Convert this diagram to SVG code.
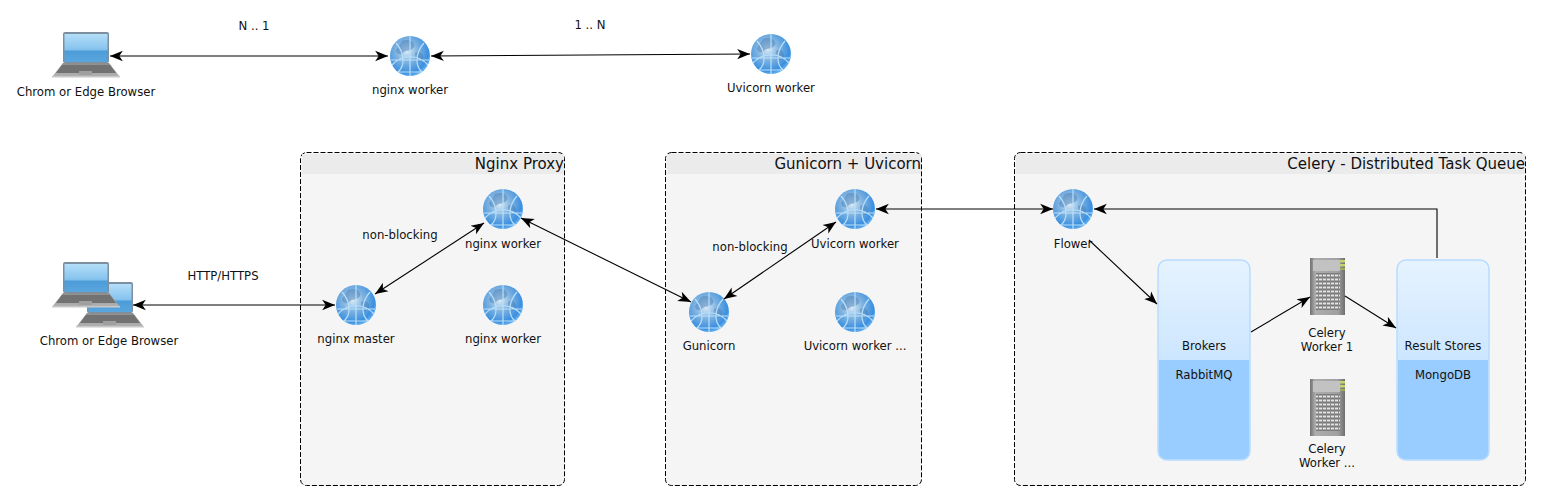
<svg xmlns="http://www.w3.org/2000/svg" width="1542" height="502" viewBox="0 0 1542 502">
<style>
text{font-family:"DejaVu Sans","Liberation Sans",sans-serif;font-size:11.7px;fill:#111;text-anchor:middle}
.title{font-size:15px;text-anchor:end}
.box{fill:#f5f5f5;stroke:#000;stroke-width:1;stroke-dasharray:5 2}
.hdr{fill:#ebebeb}
.conn{fill:none;stroke:#000;stroke-width:1.1;marker-end:url(#arr)}
.both{marker-start:url(#arr)}
.store{fill:url(#storeG);stroke:#b8dcff;stroke-width:1.500}
</style>
<defs>
<marker id="arr" markerUnits="userSpaceOnUse" markerWidth="14" markerHeight="12" refX="11" refY="5" orient="auto-start-reverse" viewBox="0 0 12 10">
<path d="M0,0.6 L11,5 L0,9.4 L3,5 Z" fill="#000"/>
</marker>
<filter id="soft" x="-10%" y="-10%" width="120%" height="120%"><feGaussianBlur stdDeviation="0.45"/></filter>
<linearGradient id="screenG" x1="0" y1="0" x2="0" y2="1"><stop offset="0" stop-color="#b4def8"/><stop offset=".55" stop-color="#86c3ee"/><stop offset=".62" stop-color="#4d9cd8"/><stop offset="1" stop-color="#5aa6de"/></linearGradient>
<linearGradient id="baseG" x1="0" y1="0" x2="0" y2="1"><stop offset="0" stop-color="#8d8d8d"/><stop offset="1" stop-color="#b4b4b4"/></linearGradient>
<radialGradient id="globeG" cx=".42" cy=".38" r=".68"><stop offset="0" stop-color="#dbeaf6"/><stop offset=".4" stop-color="#7fb3e0"/><stop offset=".8" stop-color="#3b8fe0"/><stop offset=".95" stop-color="#6cb6f2"/><stop offset="1" stop-color="#a5d6f8"/></radialGradient>
<linearGradient id="storeG" x1="0" y1="0" x2="0" y2="1"><stop offset="0" stop-color="#e6f3ff"/><stop offset="1" stop-color="#b3d9ff"/></linearGradient>
<linearGradient id="srvG" x1="0" y1="0" x2="1" y2="0"><stop offset="0" stop-color="#707070"/><stop offset=".15" stop-color="#adadad"/><stop offset=".8" stop-color="#a0a0a0"/><stop offset="1" stop-color="#6e6e6e"/></linearGradient>
<g id="laptop" filter="url(#soft)">
<rect x="11" y="0" width="46" height="31" rx="2" fill="#7d8f9e"/>
<rect x="12.500" y="2" width="43" height="28" fill="url(#screenG)"/>
<path d="M11,31 H57 L68,45 H0 Z" fill="url(#baseG)"/>
<path d="M10,33 H58 L64,41 H4 Z" fill="#727272"/>
<rect x="27" y="39" width="13" height="4" fill="#a0a0a0"/>
<rect x="0" y="44" width="68" height="1.500" fill="#c8c8c8"/>
</g>
<g id="globe" filter="url(#soft)">
<circle r="20" fill="url(#globeG)"/>
<path d="M-8,-15 C-2,-18 6,-14 4,-9 C2,-5 -5,-6 -7,-3 C-9,0 -14,-2 -14,-6 Z M5,-3 C10,-5 14,-2 13,3 C11,7 7,7 6,4 Z" fill="#4a7fb8" opacity=".5"/>
<path d="M-19,4 H19 M0,-20 V20 M-14,-13 C-5,-3 -5,10 -12,16 M14,-13 C5,-3 5,10 12,16 M-18,9 C-8,-2 8,-2 18,9 M-12,16 H12" fill="none" stroke="#b9e0fa" stroke-width="1.200"/>
</g>
<g id="server" filter="url(#soft)">
<rect x="0" y="0" width="35" height="57" fill="url(#srvG)"/>
<rect x="3" y="2" width="27" height="11" fill="#c2c2c2"/>
<rect x="30" y="2" width="5" height="2.500" fill="#c6d36a"/>
<rect x="30" y="6" width="5" height="2.500" fill="#c6d36a"/>
<rect x="30" y="10" width="5" height="2" fill="#9fae5c"/>
<rect x="6" y="15" width="24" height="37" fill="#777"/>
<path d="M6,17.500 H30 M6,21.500 H30 M6,25.500 H30 M6,29.500 H30 M6,33.500 H30 M6,37.500 H30 M6,41.500 H30 M6,45.500 H30 M6,49.500 H30" stroke="#e4e4e4" stroke-width="2"/>
<path d="M8.500,15 V52 M12.500,15 V52 M16.500,15 V52 M20.500,15 V52 M24.500,15 V52 M28.500,15 V52" stroke="#888" stroke-width="1"/>
</g>
</defs>
<rect width="1542" height="502" fill="#fff"/>

<g id="group-nginx-proxy">
<rect x="300.500" y="152.500" width="264" height="333" rx="6" class="box"/>
<rect x="302" y="154" width="262" height="20" class="hdr"/>
<text x="564" y="169" class="title">Nginx Proxy</text>
</g>
<g id="group-gunicorn">
<rect x="665.500" y="152.500" width="256" height="333" rx="6" class="box"/>
<rect x="667" y="154" width="254" height="20" class="hdr"/>
<text x="921" y="169" class="title">Gunicorn + Uvicorn</text>
</g>
<g id="group-celery">
<rect x="1014.500" y="152.500" width="511" height="333" rx="6" class="box"/>
<rect x="1016" y="154" width="509" height="20" class="hdr"/>
<text x="1525" y="169" class="title">Celery - Distributed Task Queue</text>
</g>

<g id="node-browser-top"><use href="#laptop" x="52" y="32"/><text x="86" y="96">Chrom or Edge Browser</text></g>
<g id="node-nginx-worker-top"><use href="#globe" x="410" y="56"/><text x="410" y="94">nginx worker</text></g>
<g id="node-uvicorn-worker-top"><use href="#globe" x="771" y="54"/><text x="771" y="92">Uvicorn worker</text></g>
<g id="node-browsers"><use href="#laptop" x="76" y="282"/><use href="#laptop" x="52" y="262"/><text x="109" y="345">Chrom or Edge Browser</text></g>
<g id="node-nginx-master"><use href="#globe" x="356" y="305"/><text x="356" y="343">nginx master</text></g>
<g id="node-nginx-worker-1"><use href="#globe" x="503" y="209"/><text x="503" y="248">nginx worker</text></g>
<g id="node-nginx-worker-2"><use href="#globe" x="503" y="305"/><text x="503" y="343">nginx worker</text></g>
<g id="node-gunicorn"><use href="#globe" x="709" y="312"/><text x="709" y="350">Gunicorn</text></g>
<g id="node-uvicorn-worker-1"><use href="#globe" x="855" y="209"/><text x="855" y="248">Uvicorn worker</text></g>
<g id="node-uvicorn-worker-2"><use href="#globe" x="855" y="312"/><text x="855" y="350">Uvicorn worker ...</text></g>
<g id="node-flower"><use href="#globe" x="1073" y="209"/><text x="1073" y="248">Flower</text></g>
<g id="node-brokers">
<rect x="1158" y="260" width="92" height="200" rx="9" class="store"/>
<path d="M1159,360 H1249 V451 Q1249,459 1241,459 H1167 Q1159,459 1159,451 Z" fill="#99ccff"/>
<text x="1204" y="350">Brokers</text><text x="1204" y="379">RabbitMQ</text>
</g>
<g id="node-celery-worker-1"><use href="#server" x="1310" y="258"/><text x="1327" y="337">Celery</text><text x="1327" y="351">Worker 1</text></g>
<g id="node-celery-worker-2"><use href="#server" x="1310" y="379"/><text x="1327" y="453">Celery</text><text x="1327" y="467">Worker ...</text></g>
<g id="node-result-stores">
<rect x="1397" y="260" width="92" height="200" rx="9" class="store"/>
<path d="M1398,360 H1488 V451 Q1488,459 1480,459 H1406 Q1398,459 1398,451 Z" fill="#99ccff"/>
<text x="1443" y="350">Result Stores</text><text x="1443" y="379">MongoDB</text>
</g>

<g id="connectors">
<path class="conn both" d="M110,56 H388"/>
<path class="conn both" d="M431,56 L750,54"/>
<path class="conn both" d="M133,305 H335"/>
<path class="conn both" d="M375,294 L484,223"/>
<path class="conn both" d="M521,218 L691,302"/>
<path class="conn both" d="M724,299 L836,222"/>
<path class="conn both" d="M876,209 H1053"/>
<path class="conn" d="M1437,258 V209 H1094"/>
<path class="conn" d="M1089,240 L1157,304"/>
<path class="conn" d="M1251,332 L1310,297"/>
<path class="conn" d="M1345,296 L1396,328"/>
</g>

<g id="labels">
<text x="254" y="30">N .. 1</text>
<text x="590" y="29">1 .. N</text>
<text x="223" y="280">HTTP/HTTPS</text>
<text x="400" y="239">non-blocking</text>
<text x="750" y="251">non-blocking</text>
</g>
</svg>
